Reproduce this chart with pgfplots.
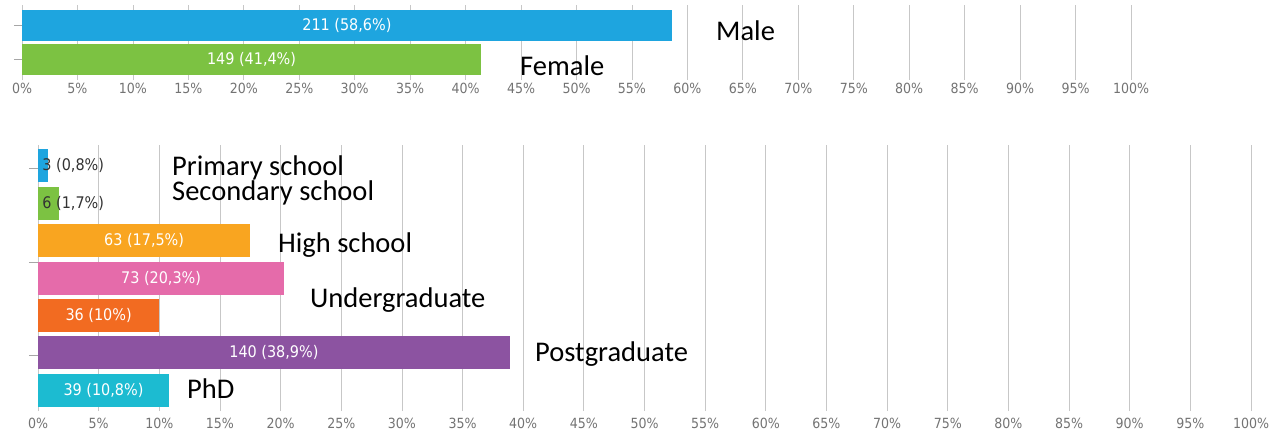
\documentclass[border=0pt]{standalone}
\usepackage{pgfplots}
\pgfplotsset{compat=1.18}
\usepackage{fontspec}
\setmainfont{Carlito}
\newfontfamily\tickfont{DejaVu Sans Condensed}
\definecolor{cblue}{HTML}{1EA5DF}
\definecolor{cgreen}{HTML}{7CC242}
\definecolor{corange}{HTML}{F9A520}
\definecolor{cpink}{HTML}{E56BAA}
\definecolor{cred}{HTML}{F26B21}
\definecolor{cpurple}{HTML}{8C53A1}
\definecolor{ccyan}{HTML}{1CBBD1}
\pgfplotsset{
  myaxis/.style={
    scale only axis, xbar, xmin=0, xmax=100,
    axis line style={draw=none},
    xtick={0,5,...,100},
    xticklabel={\pgfmathprintnumber{\tick}\%},
    /pgf/number format/assume math mode=true,
    xticklabel style={font=\tickfont\fontsize{14}{14}\selectfont, text=black!55},
    xmajorgrids, grid style={black!22, line width=0.8pt},
    xtick style={draw=none},
    ytick pos=left,
    ytick style={black!35, line width=0.6pt},
    yticklabels={}, tick align=outside, major tick length=8pt,
    bar shift=0pt,
    clip=false,
  },
}
\tikzset{
  vlab/.style={font=\tickfont\fontsize{16}{16}\selectfont, text=white, inner sep=0pt},
  dlab/.style={font=\tickfont\fontsize{16}{16}\selectfont, text=black!80, inner sep=0pt, anchor=west},
  ann/.style={anchor=base west, inner sep=0pt, font=\fontsize{28.5}{30}\selectfont, text=black},
}
\begin{document}
\begin{tikzpicture}
\useasboundingbox (0pt,0pt) rectangle (1278pt,-432pt);
% ---- top: gender
\begin{axis}[myaxis, at={(22pt,-80pt)}, anchor=south west,
  width=1109pt, height=75pt, ymin=-0.6, ymax=1.6, ytick={0,1}, bar width=31pt,
  xticklabel style={yshift=8pt}]
\addplot[fill=cblue, draw=none] coordinates {(58.6,1)};
\addplot[fill=cgreen, draw=none] coordinates {(41.4,0)};
\node[vlab] at (axis cs:29.3,1) {211 (58,6\%)};
\node[vlab] at (axis cs:20.7,0) {149 (41,4\%)};
\end{axis}
\node[ann] at (716pt,-40pt) {Male};
\node[ann] at (520pt,-75pt) {Female};
% ---- bottom: education
\begin{axis}[myaxis, at={(38pt,-411pt)}, anchor=south west,
  width=1213pt, height=266pt, ymin=-0.55, ymax=6.55, ytick={0.95,3.43,5.93},
  major tick length=9pt, bar width=33pt,
  xticklabel style={yshift=5.5pt}]
\addplot[fill=cblue, draw=none] coordinates {(0.8,6)};
\addplot[fill=cgreen, draw=none] coordinates {(1.7,5)};
\addplot[fill=corange, draw=none] coordinates {(17.5,4)};
\addplot[fill=cpink, draw=none] coordinates {(20.3,3)};
\addplot[fill=cred, draw=none] coordinates {(10,2)};
\addplot[fill=cpurple, draw=none] coordinates {(38.9,1)};
\addplot[fill=ccyan, draw=none] coordinates {(10.8,0)};
\node[dlab] at (axis cs:0.35,6) {3 (0,8\%)};
\node[dlab] at (axis cs:0.35,5) {6 (1,7\%)};
\node[vlab] at (axis cs:8.75,4) {63 (17,5\%)};
\node[vlab] at (axis cs:10.15,3) {73 (20,3\%)};
\node[vlab] at (axis cs:5,2) {36 (10\%)};
\node[vlab] at (axis cs:19.45,1) {140 (38,9\%)};
\node[vlab] at (axis cs:5.4,0) {39 (10,8\%)};
\end{axis}
\node[ann] at (172pt,-175pt) {Primary school};
\node[ann] at (172pt,-200pt) {Secondary school};
\node[ann] at (278pt,-252pt) {High school};
\node[ann] at (310pt,-307pt) {Undergraduate};
\node[ann] at (535pt,-361pt) {Postgraduate};
\node[ann] at (187pt,-398pt) {PhD};
\end{tikzpicture}
\end{document}
